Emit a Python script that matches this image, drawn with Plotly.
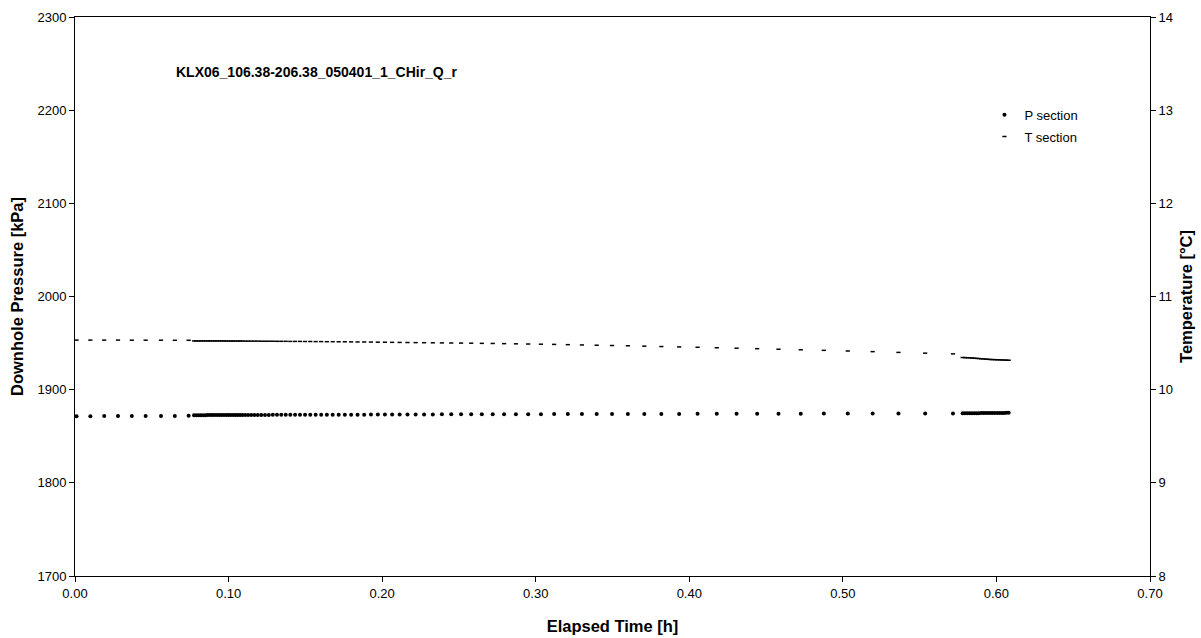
import plotly.graph_objects as go

# Elapsed time [h] for the logged samples (three recording blocks)
time_h = [
    0.0010, 0.0100, 0.0190, 0.0280, 0.0370, 0.0460, 0.0560, 0.0650, 0.0740,
    0.0775, 0.0790, 0.0805, 0.0820, 0.0835, 0.0850, 0.0865, 0.0880, 0.0895,
    0.0910, 0.0925, 0.0940, 0.0955, 0.0970, 0.0985, 0.1000, 0.1015, 0.1030,
    0.1045, 0.1060, 0.1075, 0.1090, 0.1108, 0.1127, 0.1147, 0.1168, 0.1190,
    0.1213, 0.1237, 0.1262, 0.1288, 0.1315, 0.1343, 0.1372, 0.1402, 0.1433,
    0.1465, 0.1498, 0.1532, 0.1567, 0.1603, 0.1640, 0.1678, 0.1717, 0.1757,
    0.1798, 0.1840, 0.1883, 0.1927, 0.1972, 0.2018, 0.2065, 0.2114, 0.2165,
    0.2218, 0.2273, 0.2330, 0.2389, 0.2450, 0.2514, 0.2580, 0.2649, 0.2720,
    0.2794, 0.2871, 0.2951, 0.3034, 0.3120, 0.3209, 0.3301, 0.3397, 0.3497,
    0.3600, 0.3707, 0.3818, 0.3934, 0.4054, 0.4179, 0.4308, 0.4442, 0.4581,
    0.4726, 0.4876, 0.5032, 0.5194, 0.5362, 0.5536, 0.5717,
    0.5780, 0.5795, 0.5810, 0.5825, 0.5840, 0.5855, 0.5870, 0.5885, 0.5900,
    0.5915, 0.5930, 0.5945, 0.5960, 0.5975, 0.5990, 0.6005, 0.6020, 0.6035,
    0.6050, 0.6065, 0.6080,
]

# Section pressure [kPa]
p_section = [
    1871.6, 1871.6, 1871.7, 1871.7, 1871.7, 1871.8, 1871.8, 1871.8, 1871.9,
    1872.6, 1872.6, 1872.6, 1872.6, 1872.6, 1872.6, 1872.7, 1872.7, 1872.7,
    1872.7, 1872.7, 1872.7, 1872.7, 1872.7, 1872.8, 1872.8, 1872.8, 1872.8,
    1872.8, 1872.8, 1872.8, 1872.8, 1872.8, 1872.9, 1872.9, 1872.9, 1872.9,
    1872.9, 1872.9, 1872.9, 1873.0, 1873.0, 1873.0, 1873.0, 1873.0, 1873.0,
    1873.0, 1873.1, 1873.1, 1873.1, 1873.1, 1873.1, 1873.1, 1873.2, 1873.2,
    1873.2, 1873.2, 1873.2, 1873.3, 1873.3, 1873.3, 1873.3, 1873.3, 1873.4,
    1873.4, 1873.4, 1873.4, 1873.5, 1873.5, 1873.5, 1873.5, 1873.6, 1873.6,
    1873.6, 1873.7, 1873.7, 1873.7, 1873.8, 1873.8, 1873.8, 1873.9, 1873.9,
    1873.9, 1874.0, 1874.0, 1874.0, 1874.1, 1874.1, 1874.1, 1874.2, 1874.2,
    1874.2, 1874.3, 1874.3, 1874.3, 1874.4, 1874.4, 1874.4,
    1874.7, 1874.7, 1874.7, 1874.8, 1874.8, 1874.8, 1874.8, 1874.8, 1874.9,
    1874.9, 1874.9, 1874.9, 1874.9, 1875.0, 1875.0, 1875.0, 1875.0, 1875.0,
    1875.0, 1875.1, 1875.1,
]

# Section temperature [°C]
t_section = [
    10.532, 10.532, 10.532, 10.532, 10.531, 10.531, 10.531, 10.530, 10.530,
    10.523, 10.523, 10.523, 10.523, 10.523, 10.523, 10.523, 10.523, 10.523,
    10.523, 10.523, 10.523, 10.523, 10.523, 10.522, 10.522, 10.522, 10.522,
    10.522, 10.522, 10.522, 10.522, 10.521, 10.521, 10.521, 10.521, 10.521,
    10.520, 10.520, 10.520, 10.520, 10.519, 10.519, 10.519, 10.518, 10.518,
    10.518, 10.517, 10.517, 10.516, 10.516, 10.515, 10.515, 10.514, 10.514,
    10.513, 10.512, 10.512, 10.511, 10.510, 10.509, 10.508, 10.507, 10.506,
    10.505, 10.504, 10.503, 10.502, 10.501, 10.500, 10.499, 10.497, 10.496,
    10.494, 10.492, 10.490, 10.488, 10.486, 10.483, 10.480, 10.477, 10.474,
    10.471, 10.467, 10.463, 10.459, 10.455, 10.450, 10.445, 10.440, 10.434,
    10.428, 10.422, 10.415, 10.408, 10.400, 10.392, 10.384,
    10.345, 10.344, 10.343, 10.342, 10.340, 10.338, 10.336, 10.334, 10.332,
    10.330, 10.328, 10.326, 10.324, 10.323, 10.322, 10.321, 10.320, 10.319,
    10.318, 10.317, 10.316,
]

x_ticks = [0.0, 0.1, 0.2, 0.3, 0.4, 0.5, 0.6, 0.7]
p_ticks = [1700, 1800, 1900, 2000, 2100, 2200, 2300]
t_ticks = [8, 9, 10, 11, 12, 13, 14]

FONT = "Liberation Sans, Arial, sans-serif"

fig = go.Figure()
fig.add_trace(go.Scatter(
    x=time_h, y=p_section, mode="markers", name="P section", legendgroup="p",
    marker=dict(symbol="circle", size=4, color="black"),
))
fig.add_trace(go.Scatter(
    x=time_h, y=t_section, mode="markers", name="T section", legendgroup="t",
    yaxis="y2",
    marker=dict(symbol="line-ew", size=3, color="black",
                line=dict(color="black", width=1.5)),
))

axis_common = dict(
    showgrid=False, zeroline=False, showline=True, linecolor="black",
    linewidth=1, ticks="outside", ticklen=5, tickcolor="black", tickwidth=1,
    tickfont=dict(family=FONT, size=13, color="black"), automargin=False,
)

fig.update_layout(
    width=1201, height=638,
    margin=dict(l=75, r=51, t=17, b=62),
    paper_bgcolor="white", plot_bgcolor="white",
    font=dict(family=FONT, size=13, color="black"),
    showlegend=True,
    legend=dict(x=0.846, y=0.852, xanchor="left", yanchor="top",
                bgcolor="rgba(0,0,0,0)", font=dict(family=FONT, size=13),
                itemwidth=30, tracegroupgap=2),
    xaxis=dict(
        range=[0, 0.7], tickvals=x_ticks,
        ticktext=[f"{v:.2f}" for v in x_ticks], mirror=True,
        title=dict(text="<b>Elapsed Time [h]</b>",
                   font=dict(family=FONT, size=16.5), standoff=20),
        **axis_common,
    ),
    yaxis=dict(
        range=[1700, 2300], tickvals=p_ticks,
        title=dict(text="<b>Downhole Pressure [kPa]</b>",
                   font=dict(family=FONT, size=16.5), standoff=9),
        **axis_common,
    ),
    yaxis2=dict(
        range=[8, 14], tickvals=t_ticks, overlaying="y", side="right",
        title=dict(text="<b>Temperature [°C]</b>",
                   font=dict(family=FONT, size=16.5), standoff=8),
        **axis_common,
    ),
    annotations=[dict(
        text="<b>KLX06_106.38-206.38_050401_1_CHir_Q_r</b>",
        xref="paper", yref="paper", x=0.092, y=0.902,
        xanchor="left", yanchor="middle", showarrow=False,
        font=dict(family=FONT, size=14, color="black"),
    )],
)

fig.write_html("out.html")
